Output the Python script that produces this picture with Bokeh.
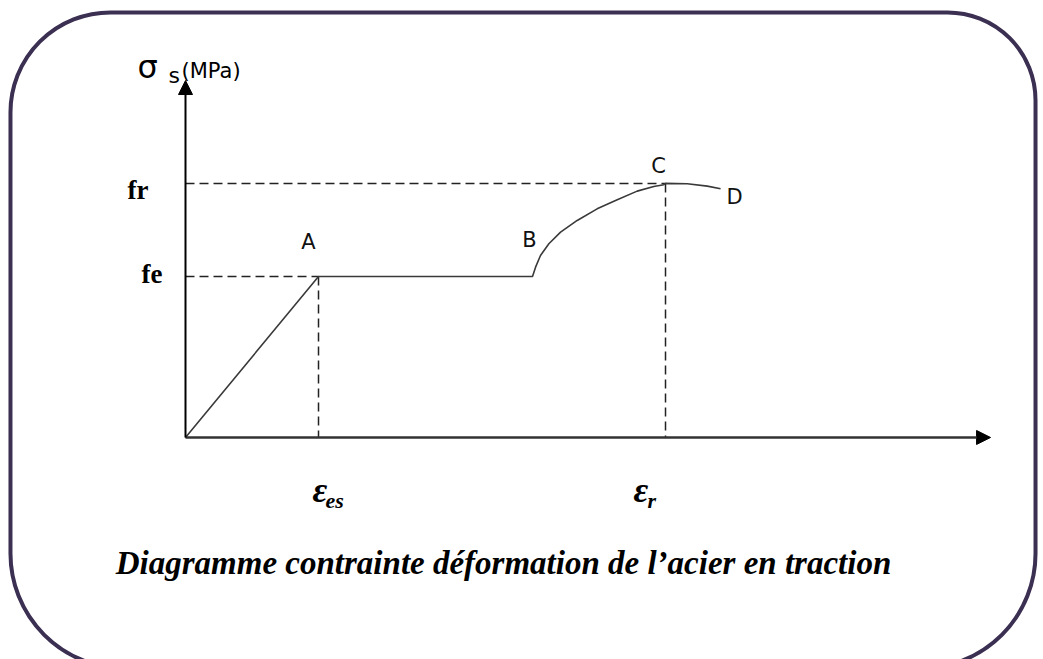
from bokeh.plotting import figure
from bokeh.models import Range1d, Arrow, NormalHead, Label, BoxAnnotation
from bokeh.embed import file_html
from bokeh.resources import INLINE

# ---- data (normalised units: strain / eps_es, stress / fe) ----
curve_strain = [0.0, 1.0, 2.609, 2.632, 2.669, 2.732, 2.820, 2.945, 3.095,
                3.246, 3.396, 3.521, 3.596, 3.609, 3.772, 3.923, 4.023]
curve_stress = [0.0, 1.0, 1.0, 1.058, 1.130, 1.203, 1.275, 1.348, 1.420,
                1.476, 1.530, 1.559, 1.570, 1.578, 1.576, 1.561, 1.545]
point_names = ["A", "B", "C", "D"]
point_strain = [1.0, 2.609, 3.609, 4.023]
point_stress = [1.0, 1.0, 1.578, 1.545]
eps_es = 1.0
eps_r = 3.609
fe = 1.0
fr = 1.578
axis_x_end = 6.053
axis_y_end = 2.217
caption = "Diagramme contrainte déformation de l\u2019acier en traction"

p = figure(width=1043, height=659, x_range=Range1d(-1.391, 6.451),
           y_range=Range1d(-1.379, 2.714), min_border=0,
           x_axis_location=None, y_axis_location=None,
           toolbar_location=None, output_backend="svg")
p.grid.visible = False
p.outline_line_color = None
p.background_fill_color = "white"

# rounded frame
p.add_layout(BoxAnnotation(left=-1.316, right=6.391, top=2.640, bottom=-1.435,
                           fill_alpha=0, line_color="#3b2f52", line_alpha=1.0,
                           line_width=4,
                           border_radius=dict(top_left=100, top_right=88,
                                              bottom_right=115, bottom_left=115)))

# dashed guide lines
p.segment(x0=[0, 0, eps_es, eps_r], y0=[fr, fe, fe, fr],
          x1=[eps_r, eps_es, eps_es, eps_r], y1=[fr, fe, 0, 0],
          line_color="#222222", line_width=1.5, line_dash="9 5")

# axes with arrows
p.add_layout(Arrow(end=NormalHead(size=14, fill_color="black", line_color="black"),
                   x_start=0, y_start=0, x_end=axis_x_end, y_end=0,
                   line_width=2.5, line_color="#333333"))
p.add_layout(Arrow(end=NormalHead(size=14, fill_color="black", line_color="black"),
                   x_start=0, y_start=0, x_end=0, y_end=axis_y_end,
                   line_width=2, line_color="black"))

# stress-strain curve
p.line(curve_strain, curve_stress, line_color="#3a3a3a", line_width=1.6)

# point labels
offsets = {"A": (-10, 34), "B": (-3, 36), "C": (-7, 17), "D": (14, -8)}
for name, xs, ys in zip(point_names, point_strain, point_stress):
    dx, dy = offsets[name]
    p.add_layout(Label(x=xs, y=ys, x_offset=dx, y_offset=dy, text=name,
                       text_align="center", text_baseline="alphabetic",
                       text_font="DejaVu Sans", text_font_size="21px",
                       text_color="#111111"))

# y tick labels
p.add_layout(Label(x=0, y=fr, x_offset=-37, y_offset=-7, text="fr",
                   text_align="right", text_baseline="alphabetic",
                   text_font="Liberation Serif", text_font_style="bold",
                   text_font_size="27px", text_color="black"))
p.add_layout(Label(x=0, y=fe, x_offset=-23, y_offset=2, text="fe",
                   text_align="right", text_baseline="alphabetic",
                   text_font="Liberation Serif", text_font_style="bold",
                   text_font_size="27px", text_color="black"))

# x tick labels
for xv, sub, dxe, dxs in [(eps_es, "es", -6, 7), (eps_r, "r", -32, -18)]:
    p.add_layout(Label(x=xv, y=0, x_offset=dxe, y_offset=-53, text="\u03b5",
                       text_align="left", text_baseline="alphabetic",
                       text_font="Liberation Serif", text_font_style="bold italic",
                       text_font_size="36px", text_color="black"))
    p.add_layout(Label(x=xv, y=0, x_offset=dxs, y_offset=-63, text=sub,
                       text_align="left", text_baseline="alphabetic",
                       text_font="Liberation Serif", text_font_style="bold italic",
                       text_font_size="22px", text_color="black"))

# axis title
p.add_layout(Label(x=0, y=axis_y_end, x_offset=-48, y_offset=14, text="\u03c3",
                   text_align="left", text_baseline="alphabetic",
                   text_font="DejaVu Sans", text_font_size="32px",
                   text_color="black"))
p.add_layout(Label(x=0, y=axis_y_end, x_offset=-17, y_offset=5, text="s",
                   text_align="left", text_baseline="alphabetic",
                   text_font="DejaVu Sans", text_font_size="22px",
                   text_color="black"))
p.add_layout(Label(x=0, y=axis_y_end, x_offset=-4, y_offset=10, text="(MPa)",
                   text_align="left", text_baseline="alphabetic",
                   text_font="DejaVu Sans", text_font_size="21px",
                   text_color="black"))

# caption
p.add_layout(Label(x=2.391, y=-0.845, y_offset=11, text=caption,
                   text_align="center", text_baseline="alphabetic",
                   text_font="Liberation Serif", text_font_style="bold italic",
                   text_font_size="33px", text_color="black"))

open("out.html", "w").write(file_html(p, INLINE))
